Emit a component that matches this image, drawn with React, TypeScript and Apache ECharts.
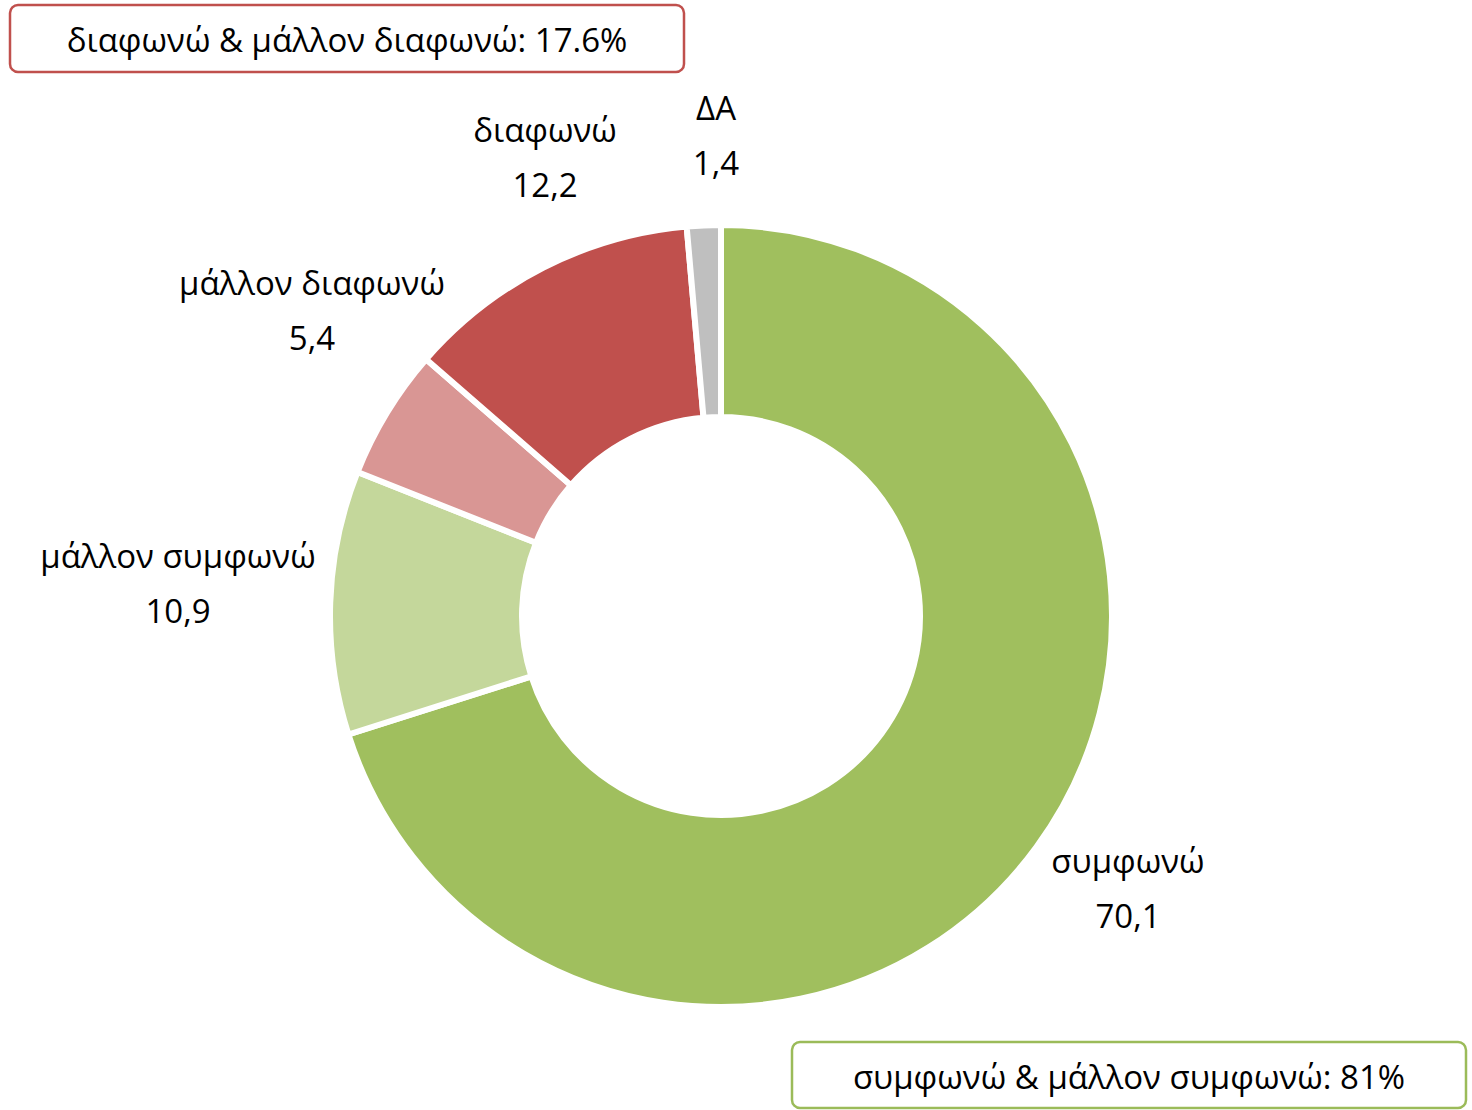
import React, { useEffect, useRef } from "react";
import * as echarts from "echarts";

const categories = ["συμφωνώ", "μάλλον συμφωνώ", "μάλλον διαφωνώ", "διαφωνώ", "ΔΑ"];
const values = [70.1, 10.9, 5.4, 12.2, 1.4];
const colors = ["#A0BF5E", "#C4D79B", "#D99694", "#C0504D", "#BFBFBF"];
// label anchor positions (px) per slice
const labelPos = [
  [1128, 888],
  [178, 583],
  [312, 310],
  [545, 157],
  [716, 135],
];

const FONT = "'Open Sans', 'Noto Sans', sans-serif";

export default function App() {
  const ref = useRef<HTMLDivElement>(null);
  useEffect(() => {
    document.body.style.margin = "0";
    const chart = echarts.init(ref.current!, undefined, { renderer: "svg" });
    const disagree = values[2] + values[3];
    const agree = values[0] + values[1];
    const fmt = (v: number) => String(Math.round(v * 10) / 10);
    chart.setOption({
      animation: false,
      backgroundColor: "#ffffff",
      series: [
        {
          type: "pie",
          center: [721, 616],
          radius: [199, 391],
          startAngle: 90,
          clockwise: true,
          avoidLabelOverlap: false,
          itemStyle: { borderColor: "#ffffff", borderWidth: 6 },
          label: {
            show: true,
            formatter: (p: any) => `${p.name}\n${String(p.value).replace(".", ",")}`,
            fontFamily: FONT,
            fontSize: 33,
            lineHeight: 55,
            color: "#000000",
            align: "center",
          },
          labelLine: { show: false },
          labelLayout: (params: any) => {
            const [x, y] = labelPos[params.dataIndex];
            return { x, y, align: "center", verticalAlign: "middle" };
          },
          emphasis: { disabled: true },
          data: categories.map((name, i) => ({
            name,
            value: values[i],
            itemStyle: { color: colors[i] },
          })),
        },
      ],
      graphic: [
        {
          type: "rect",
          shape: { x: 10, y: 5, width: 674, height: 67, r: 8 },
          style: { fill: "#ffffff", stroke: "#C0504D", lineWidth: 2.5 },
        },
        {
          type: "text",
          x: 347,
          y: 39,
          style: {
            text: `διαφωνώ & μάλλον διαφωνώ: ${fmt(disagree)}%`,
            fontFamily: FONT,
            fontSize: 33,
            fill: "#000000",
            align: "center",
            verticalAlign: "middle",
          },
        },
        {
          type: "rect",
          shape: { x: 792, y: 1042, width: 674, height: 66, r: 8 },
          style: { fill: "#ffffff", stroke: "#9BBB59", lineWidth: 2.5 },
        },
        {
          type: "text",
          x: 1129,
          y: 1076,
          style: {
            text: `συμφωνώ & μάλλον συμφωνώ: ${fmt(agree)}%`,
            fontFamily: FONT,
            fontSize: 33,
            fill: "#000000",
            align: "center",
            verticalAlign: "middle",
          },
        },
      ],
    });
    return () => chart.dispose();
  }, []);
  return <div ref={ref} style={{ width: 1472, height: 1110 }} />;
}
